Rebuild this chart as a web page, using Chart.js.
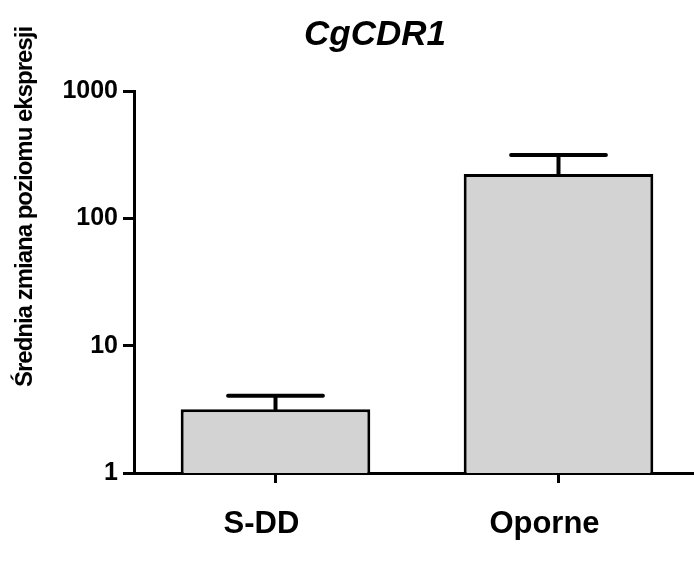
<!DOCTYPE html>
<html>
<head>
  <meta charset="utf-8">
  <title>CgCDR1</title>
  <script src="https://cdn.jsdelivr.net/npm/chart.js"></script>
  <style>html,body{margin:0;padding:0;overflow:hidden;background:#fff;}#wrap{width:700px;height:565px;}</style>
</head>
<body>
  <div id="wrap"><canvas id="chart" width="700" height="565"></canvas></div>
  <script>
    const categories = ["S-DD", "Oporne"];
    const means = [3.16, 223];
    const upperErr = [4.05, 314];
    const yTicks = [1, 10, 100, 1000];
    const chartTitle = "CgCDR1";
    const yLabel = "Średnia zmiana poziomu ekspresji";
    const FONT = "'Liberation Sans', Arial, sans-serif";

    const errorBars = {
      id: "errorBars",
      afterDatasetsDraw(chart) {
        const ctx = chart.ctx, y = chart.scales.y;
        const meta = chart.getDatasetMeta(0);
        ctx.save();
        ctx.strokeStyle = "#000";
        ctx.lineWidth = 4;
        ctx.lineCap = "round";
        meta.data.forEach((bar, i) => {
          const top = y.getPixelForValue(upperErr[i]);
          const half = bar.width / 4;
          ctx.beginPath();
          ctx.moveTo(bar.x, bar.y);
          ctx.lineTo(bar.x, top);
          ctx.moveTo(bar.x - half, top);
          ctx.lineTo(bar.x + half, top);
          ctx.stroke();
        });
        ctx.restore();
      }
    };

    const labels = {
      id: "labels",
      afterDraw(chart) {
        const ctx = chart.ctx;
        ctx.save();
        ctx.fillStyle = "#000";
        ctx.textAlign = "center";
        ctx.textBaseline = "middle";
        ctx.font = "italic bold 35px " + FONT;
        ctx.fillText(chartTitle, 375, 35);
        ctx.translate(25, 207);
        ctx.rotate(-Math.PI / 2);
        ctx.font = "bold 24px " + FONT;
        ctx.letterSpacing = "-1px";
        ctx.fillText(yLabel, 0, 0);
        ctx.restore();
      }
    };

    new Chart(document.getElementById("chart"), {
      type: "bar",
      data: {
        labels: categories,
        datasets: [{
          data: means,
          backgroundColor: "#d3d3d3",
          borderColor: "#000",
          borderWidth: 3,
          borderSkipped: "bottom",
          barPercentage: 0.67,
          categoryPercentage: 1
        }]
      },
      options: {
        responsive: false,
        animation: false,
        layout: { padding: { top: 91, left: 0, right: 0, bottom: 0 } },
        plugins: { legend: { display: false }, tooltip: { enabled: false } },
        scales: {
          x: {
            grid: { display: true, drawOnChartArea: false, offset: false, tickLength: 10, color: "#000", lineWidth: 3 },
            border: { display: true, color: "#000", width: 3 },
            ticks: { color: "#000", font: { family: FONT, size: 31, weight: "bold" }, padding: 23, labelOffset: -14 },
            afterFit(s) { s.height = 92; }
          },
          y: {
            type: "logarithmic",
            min: 1,
            max: 1000,
            afterBuildTicks(s) { s.ticks = yTicks.map(v => ({ value: v })); },
            grid: { display: true, drawOnChartArea: false, tickLength: 11, color: "#000", lineWidth: 3 },
            border: { display: true, color: "#000", width: 3 },
            ticks: { color: "#000", font: { family: FONT, size: 25, weight: "bold" }, padding: 5, callback: v => String(v) },
            afterFit(s) { s.width = 134; }
          }
        }
      },
      plugins: [errorBars, labels]
    });
  </script>
</body>
</html>
